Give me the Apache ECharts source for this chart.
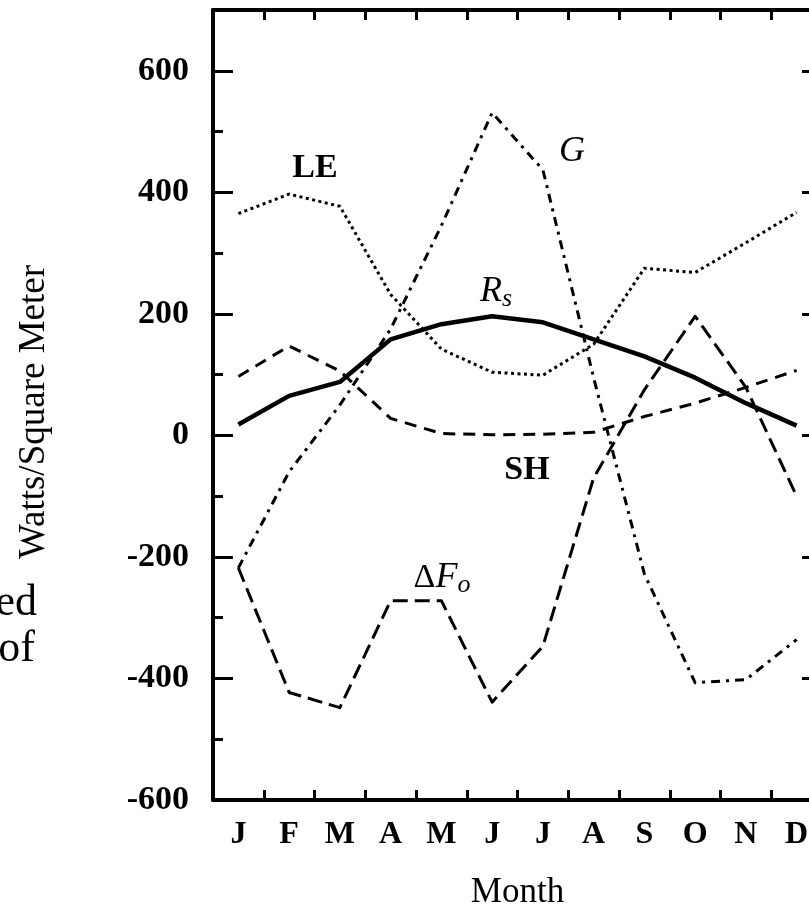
<!DOCTYPE html>
<html>
<head>
<meta charset="utf-8">
<script src="https://cdn.jsdelivr.net/npm/echarts@6/dist/echarts.min.js"></script>
<style>
  html, body { margin: 0; padding: 0; background: #fff; overflow: hidden; }
  #chart { width: 840px; height: 923px; }
</style>
</head>
<body>
<div id="chart"></div>
<script>
// Monthly surface energy budget terms (W/m^2)
const months = ['J', 'F', 'M', 'A', 'M', 'J', 'J', 'A', 'S', 'O', 'N', 'D'];
const seriesLE = [365, 397, 377, 232, 142, 104, 99, 150, 275, 268, 317, 367];
const seriesRs = [18, 65, 88, 158, 183, 196, 186, 158, 130, 95, 53, 16];
const seriesSH = [97, 147, 106, 28, 3, 1, 2, 5, 31, 53, 79, 107];
const seriesG = [-218, -60, 50, 175, 345, 531, 437, 95, -228, -407, -402, -336];
const seriesDF = [-218, -423, -448, -272, -272, -439, -347, -70, 75, 196, 79, -100];
const yTicks = [-600, -400, -200, 0, 200, 400, 600];

const serif = '"Liberation Serif", "DejaVu Serif", serif';
const chart = echarts.init(document.getElementById('chart'), null, { renderer: 'canvas' });

const yMin = -600, yMax = 700;

function yAxisMajor(position, showLabels) {
  return {
    type: 'value', position: position, min: yMin, max: yMax, interval: 200,
    axisLine: { show: true, lineStyle: { color: '#000', width: 4 } },
    axisTick: { show: true, inside: true, length: 20, lineStyle: { color: '#000', width: 3 } },
    axisLabel: {
      show: showLabels, margin: 24, color: '#000', fontFamily: serif, fontWeight: 'bold', fontSize: 34,
      formatter: v => (yTicks.indexOf(v) >= 0 ? String(v) : '')
    },
    splitLine: { show: false }
  };
}
function yAxisMinor(position) {
  return {
    type: 'value', position: position, min: yMin, max: yMax, interval: 100,
    axisLine: { show: false },
    axisTick: { show: true, inside: true, length: 10, lineStyle: { color: '#000', width: 3 } },
    axisLabel: { show: false },
    splitLine: { show: false }
  };
}
function xAxisDef(position, showLabels) {
  return {
    type: 'category', position: position, data: months, boundaryGap: true,
    axisLine: { show: true, onZero: false, lineStyle: { color: '#000', width: 4 } },
    axisTick: { show: true, inside: true, length: 10, lineStyle: { color: '#000', width: 3 } },
    axisLabel: {
      show: showLabels, margin: 19, color: '#000', fontFamily: serif, fontWeight: 'bold', fontSize: 32
    },
    splitLine: { show: false }
  };
}

function line(name, data, width, dash) {
  return {
    name: name, type: 'line', data: data, xAxisIndex: 0, yAxisIndex: 0,
    symbol: 'none', smooth: false, silent: true,
    lineStyle: { color: '#000', width: width, type: dash || 'solid', cap: 'butt', join: 'round' }
  };
}

const bottomX = xAxisDef('bottom', true);
bottomX.name = 'Month';
bottomX.nameLocation = 'middle';
bottomX.nameGap = 75;
bottomX.nameTextStyle = { color: '#000', fontFamily: serif, fontSize: 35 };

const labelStyle = (text, x, y, extra) => ({
  type: 'text', x: x, y: y, silent: true,
  style: Object.assign({
    text: text, fill: '#000', font: 'bold 34px ' + serif,
    textAlign: 'center', textVerticalAlign: 'middle'
  }, extra || {})
});

chart.setOption({
  animation: false,
  backgroundColor: '#fff',
  grid: { left: 213, right: 18, top: 10, bottom: 123, containLabel: false },
  xAxis: [bottomX, xAxisDef('top', false)],
  yAxis: [yAxisMajor('left', true), yAxisMinor('left'), yAxisMajor('right', false), yAxisMinor('right')],
  series: [
    line('LE', seriesLE, 3, [3, 3.5]),
    line('Rs', seriesRs, 4.5, 'solid'),
    line('SH', seriesSH, 3, [12, 8]),
    line('G', seriesG, 3, [9, 6, 3, 6]),
    line('ΔFo', seriesDF, 3, [15, 7])
  ],
  graphic: [
    {
      type: 'text', x: 34, y: 412, rotation: Math.PI / 2, silent: true,
      style: { text: 'Watts/Square Meter', fill: '#000', font: '37px ' + serif, textAlign: 'center', textVerticalAlign: 'middle' }
    },
    { type: 'text', x: 37, y: 603, silent: true,
      style: { text: 'ed', fill: '#000', font: '44px ' + serif, textAlign: 'right', textVerticalAlign: 'middle' } },
    { type: 'text', x: 35, y: 649, silent: true,
      style: { text: 'of', fill: '#000', font: '44px ' + serif, textAlign: 'right', textVerticalAlign: 'middle' } },
    labelStyle('LE', 315, 168),
    labelStyle('SH', 527, 470),
    labelStyle('G', 572, 152, { font: 'italic 36px ' + serif }),
    labelStyle('{r|R}{s|s}', 496, 292, {
      rich: {
        r: { font: 'italic 36px ' + serif, fill: '#000' },
        s: { font: 'italic 26px ' + serif, fill: '#000', padding: [14, 0, 0, 0] }
      }
    }),
    labelStyle('{d|Δ}{f|F}{o|o}', 442, 578, {
      rich: {
        d: { font: '34px ' + serif, fill: '#000' },
        f: { font: 'italic 36px ' + serif, fill: '#000' },
        o: { font: 'italic 26px ' + serif, fill: '#000', padding: [14, 0, 0, 0] }
      }
    })
  ]
});
</script>
</body>
</html>
